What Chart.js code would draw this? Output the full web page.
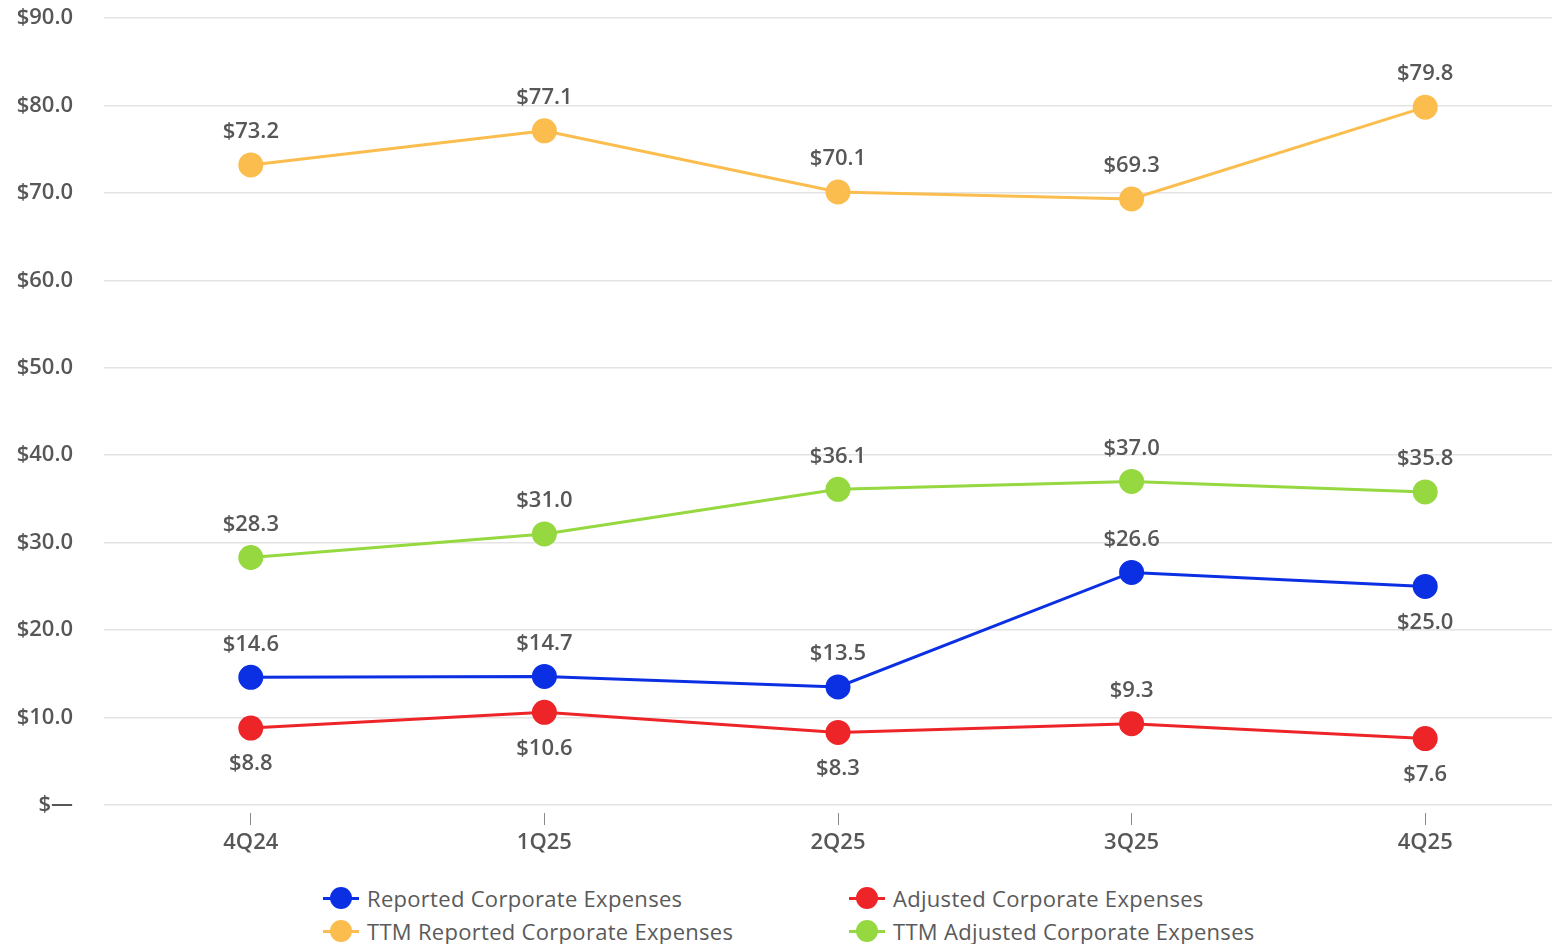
<!DOCTYPE html>
<html>
<head>
<meta charset="utf-8">
<script src="https://cdn.jsdelivr.net/npm/chart.js@4.4.1/dist/chart.umd.min.js"></script>
<style>
  html, body { margin: 0; padding: 0; background: #fff; overflow: hidden; width: 1552px; height: 944px; }
  #wrap { position: absolute; left: 0; top: 0; width: 1586px; height: 865px; }
  .legend { position: absolute; left: 0; top: 0; font-family: "Open Sans", sans-serif; font-size: 22px; letter-spacing: 0.3px; color: #5a5a5a; }
  .item { position: absolute; display: flex; align-items: center; white-space: nowrap; }
  .mark { position: relative; width: 36px; height: 22px; margin-right: 8px; }
  .mark .ln { position: absolute; left: 0; right: 0; top: 10px; height: 3px; }
  .mark .dot { position: absolute; left: 7px; top: 0; width: 22px; height: 22px; border-radius: 50%; }
</style>
</head>
<body>
<div id="wrap"><canvas id="chart"></canvas></div>
<div class="legend" id="legend"></div>
<script>
// === Data ===
const quarters = ['4Q24', '1Q25', '2Q25', '3Q25', '4Q25'];
const reported = [14.6, 14.7, 13.5, 26.6, 25.0];
const adjusted = [8.8, 10.6, 8.3, 9.3, 7.6];
const ttmReported = [73.2, 77.1, 70.1, 69.3, 79.8];
const ttmAdjusted = [28.3, 31.0, 36.1, 37.0, 35.8];
const yTicks = [0, 10, 20, 30, 40, 50, 60, 70, 80, 90];

const BLUE = '#0b2fe3', RED = '#ee2528', ORANGE = '#fbbd4e', GREEN = '#95d83f';
const TEXT = '#575757';

function series(label, data, color, below) {
  return {
    label, data,
    borderColor: color, backgroundColor: color,
    pointBackgroundColor: color, pointBorderColor: color,
    borderWidth: 3, pointRadius: 11, pointHoverRadius: 11,
    tension: 0, labelBelow: below
  };
}

// value labels (no datalabels plugin available offline)
const valueLabels = {
  id: 'valueLabels',
  afterDatasetsDraw(chart) {
    const ctx = chart.ctx;
    ctx.save();
    ctx.font = '600 22px "Open Sans", sans-serif';
    ctx.fillStyle = TEXT;
    ctx.textAlign = 'center';
    ctx.textBaseline = 'middle';
    chart.data.datasets.forEach((ds, i) => {
      chart.getDatasetMeta(i).data.forEach((pt, j) => {
        const below = ds.labelBelow[j];
        ctx.fillText('$' + ds.data[j].toFixed(1), pt.x, pt.y + (below ? 36 : -33));
      });
    });
    ctx.restore();
  }
};

const chart = new Chart(document.getElementById('chart'), {
  type: 'line',
  data: {
    labels: quarters,
    datasets: [
      series('TTM Reported Corporate Expenses', ttmReported, ORANGE, [false, false, false, false, false]),
      series('TTM Adjusted Corporate Expenses', ttmAdjusted, GREEN, [false, false, false, false, false]),
      series('Reported Corporate Expenses', reported, BLUE, [false, false, false, false, true]),
      series('Adjusted Corporate Expenses', adjusted, RED, [true, true, true, false, true])
    ]
  },
  options: {
    responsive: true,
    maintainAspectRatio: false,
    animation: false,
    layout: { padding: { top: 18, right: 0, bottom: 0, left: 0 } },
    plugins: { legend: { display: false }, tooltip: { enabled: false } },
    scales: {
      x: {
        offset: true,
        border: { display: false },
        grid: {
          offset: false, drawOnChartArea: false, drawTicks: true,
          tickLength: 20, tickColor: '#8a8a8a', tickWidth: 1,
          tickBorderDash: [0, 8, 12, 20]
        },
        ticks: { padding: 5, color: TEXT, font: { family: 'Open Sans', size: 22, weight: '600' } },
        afterFit(scale) {
          scale.height = 60;
          scale.paddingLeft = 0; scale.paddingRight = 0;
        }
      },
      y: {
        min: 0, max: 90,
        border: { display: false },
        grid: { color: '#e3e3e3', lineWidth: 1.5, drawTicks: false },
        afterBuildTicks(scale) { scale.ticks = yTicks.map(v => ({ value: v })); },
        ticks: {
          padding: 31, color: TEXT,
          font: { family: 'Open Sans', size: 22, weight: '600' },
          callback: v => v === 0 ? '$—' : '$' + v.toFixed(1)
        },
        afterFit(scale) {
          scale.width = 104;
          scale.paddingTop = 0; scale.paddingBottom = 0;
        }
      }
    }
  },
  plugins: [valueLabels]
});

// === HTML legend (two aligned columns) ===
const legendItems = [
  { text: 'Reported Corporate Expenses', color: BLUE, x: 323, y: 898 },
  { text: 'Adjusted Corporate Expenses', color: RED, x: 849, y: 898 },
  { text: 'TTM Reported Corporate Expenses', color: ORANGE, x: 323, y: 931 },
  { text: 'TTM Adjusted Corporate Expenses', color: GREEN, x: 849, y: 931 }
];
const legend = document.getElementById('legend');
legendItems.forEach(it => {
  const el = document.createElement('div');
  el.className = 'item';
  el.style.left = it.x + 'px';
  el.style.top = (it.y - 14) + 'px';
  el.style.height = '28px';
  el.innerHTML = `<span class="mark"><span class="ln" style="background:${it.color}"></span><span class="dot" style="background:${it.color}"></span></span><span>${it.text}</span>`;
  legend.appendChild(el);
});
</script>
</body>
</html>
